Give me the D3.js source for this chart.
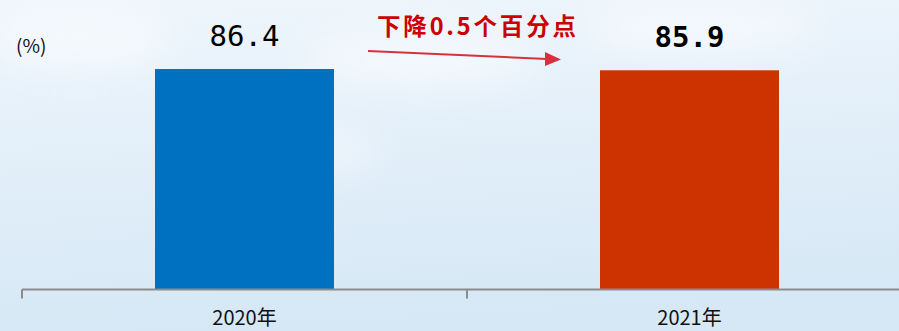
<!DOCTYPE html>
<html>
<head>
<meta charset="utf-8">
<script src="https://cdn.jsdelivr.net/npm/d3@7"></script>
<style>
html,body{margin:0;padding:0;overflow:hidden;background:#e6f1fa;}
svg{display:block;}
</style>
</head>
<body>
<script>
// ---- data ----
const categories = ["2020年", "2021年"];
const values = [86.4, 85.9];
const valueLabels = ["86.4", "85.9"];
const barColors = ["#0070C0", "#CC3300"];
const unitLabel = "(%)";
const annotation = "下降0.5个百分点";

const W = 899, H = 331;
const svg = d3.select("body").append("svg").attr("width", W).attr("height", H);

// background
const defs = svg.append("defs");
const g1 = defs.append("linearGradient").attr("id","bg").attr("x1","0").attr("y1","0").attr("x2","0.15").attr("y2","1");
g1.append("stop").attr("offset","0").attr("stop-color","#EFF6FC");
g1.append("stop").attr("offset","0.45").attr("stop-color","#E3EFF9");
g1.append("stop").attr("offset","1").attr("stop-color","#D6E8F5");
svg.append("rect").attr("width",W).attr("height",H).attr("fill","url(#bg)");
const blur = defs.append("filter").attr("id","blur").attr("x","-50%").attr("y","-50%").attr("width","200%").attr("height","200%");
blur.append("feGaussianBlur").attr("stdDeviation", 18);
const cloud = svg.append("g").attr("filter","url(#blur)").attr("opacity",0.45);
[[80,40,90,30],[420,60,120,28],[300,150,80,20],[700,30,120,25]].forEach(c=>{
  cloud.append("ellipse").attr("cx",c[0]).attr("cy",c[1]).attr("rx",c[2]).attr("ry",c[3]).attr("fill","#ffffff");
});

// scales
const x = d3.scaleBand().domain(categories).range([22, 912]).paddingInner(0).paddingOuter(0);
const barW = 179;
const y = d3.scaleLinear().domain([0, 100]).range([289, 34.4]);

// bars
svg.selectAll("rect.bar").data(values).enter().append("rect")
  .attr("class","bar")
  .attr("x",(d,i)=>x(categories[i]) + x.bandwidth()/2 - barW/2)
  .attr("width",barW)
  .attr("y",d=>y(d))
  .attr("height",d=>y(0)-y(d))
  .attr("fill",(d,i)=>barColors[i]);

// axis
const axisY = y(0) + 0.5;
svg.append("line").attr("x1",x.range()[0]).attr("x2",W).attr("y1",axisY).attr("y2",axisY)
  .attr("stroke","#8C8C8C").attr("stroke-width",2);
svg.selectAll("line.tick").data(categories).enter().append("line")
  .attr("x1",d=>x(d)).attr("x2",d=>x(d)).attr("y1",axisY).attr("y2",axisY+9)
  .attr("stroke","#8C8C8C").attr("stroke-width",2);

// category labels
svg.selectAll("text.cat").data(categories).enter().append("text")
  .attr("x",d=>x(d)+x.bandwidth()/2).attr("y",325)
  .attr("text-anchor","middle")
  .attr("font-family","'Noto Sans CJK SC', sans-serif")
  .attr("font-size",20).attr("fill","#111")
  .text(d=>d);

// value labels
svg.selectAll("text.val").data(values).enter().append("text")
  .attr("x",(d,i)=>x(categories[i])+x.bandwidth()/2).attr("y",(d,i)=>y(d)-23)
  .attr("text-anchor","middle")
  .attr("font-family","'DejaVu Sans Mono', monospace")
  .attr("font-size",29)
  .attr("font-weight",(d,i)=>i===1?"bold":"normal")
  .attr("fill","#000")
  .text((d,i)=>valueLabels[i]);

// unit label
svg.append("text").attr("x",16).attr("y",53)
  .attr("font-family","'Noto Sans CJK SC', sans-serif")
  .attr("font-size",19).attr("fill","#111").text(unitLabel);

// annotation
svg.append("text").attr("x",377).attr("y",35)
  .attr("font-family","'Noto Sans CJK SC', sans-serif")
  .attr("font-size",23.5).attr("font-weight","bold").attr("fill","#CC0000")
  .attr("textLength",199).attr("lengthAdjust","spacing")
  .text(annotation);

// arrow
const ax0 = x(categories[0]) + x.bandwidth()/2 + barW/2 + 34;
const ax1 = x(categories[1]) + x.bandwidth()/2 - barW/2 - 39;
svg.append("line").attr("x1",ax0).attr("y1",51).attr("x2",ax1-14).attr("y2",59)
  .attr("stroke","#D9303E").attr("stroke-width",2);
svg.append("path")
  .attr("d",`M${ax1},59.5 L${ax1-16},52 L${ax1-16},66 Z`)
  .attr("fill","#D9303E");
</script>
</body>
</html>
